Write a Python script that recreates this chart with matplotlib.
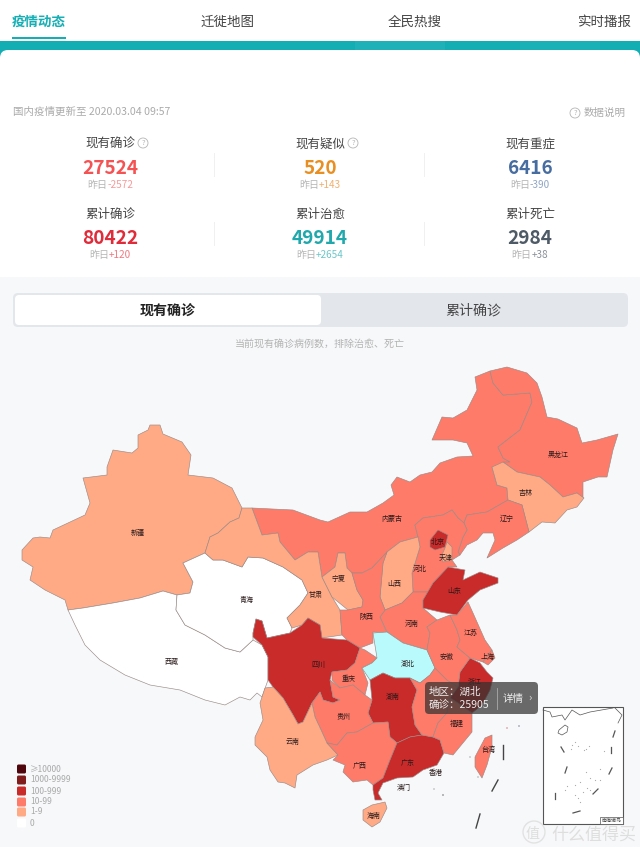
import matplotlib
matplotlib.use("Agg")
import matplotlib.pyplot as plt
from matplotlib.patches import Polygon, Rectangle, FancyBboxPatch, Circle

plt.rcParams['font.family'] = ['Noto Sans CJK SC', 'DejaVu Sans']

W, H = 640, 847

# top tabs
tabs = ['疫情动态', '迁徙地图', '全民热搜', '实时播报']
tab_x = [39, 227, 415, 604]

# summary cards
card_titles = ['现有确诊', '现有疑似', '现有重症', '累计确诊', '累计治愈', '累计死亡']
card_values = [27524, 520, 6416, 80422, 49914, 2984]
card_deltas = ['-2572', '+143', '-390', '+120', '+2654', '+38']
card_colors = ['#f55253', '#e98f21', '#476da0', '#e02c3a', '#20a8ac', '#4e5a65']
delta_colors = ['#f79a9a', '#f0b070', '#8fa5c4', '#ee7a82', '#6cc6c9', '#8a9199']
card_x = [110, 320, 530]
card_y = [144, 214]

# legend
legend_labels = ['≥10000', '1000-9999', '100-999', '10-99', '1-9', '0']
legend_colors = ['#4f070d', '#811c1c', '#c92a2a', '#ff7b69', '#ffaa85', '#ffffff']

# case bin of each province, index into legend_colors (-1 is the hovered one)
province_bins = {
    '内蒙古': 3, '新疆': 4, '西藏': 5, '青海': 5, '甘肃': 4, '黑龙江': 3, '吉林': 4,
    '辽宁': 3, '河北': 3, '北京': 2, '天津': 4, '山西': 4, '山东': 2, '宁夏': 4,
    '陕西': 3, '河南': 3, '江苏': 3, '安徽': 3, '上海': 3, '浙江': 2, '江西': 3,
    '福建': 3, '台湾': 3, '湖北': -1, '湖南': 2, '重庆': 3, '四川': 2, '贵州': 3,
    '云南': 4, '广西': 3, '广东': 2, '海南': 4,
}

# province outlines in pixels
outlines = {
    '内蒙古': [(252,508),(293,510),(320,520),(328,522),(350,512),(367,512),(383,503),(394,495),(391,485),(397,477),(410,482),(420,475),(432,472),(440,463),(457,457),(473,456),(467,443),(453,440),(432,440),(442,417),(453,418),(467,410),(477,390),(475,377),(490,371),(493,383),(503,395),(530,393),(532,402),(520,430),(498,447),(503,458),(510,462),(492,467),(497,485),(507,488),(508,500),(487,512),(467,515),(464,523),(458,518),(452,510),(443,515),(423,518),(415,525),(418,537),(400,542),(387,552),(372,568),(362,573),(352,573),(347,568),(345,553),(338,553),(335,567),(322,577),(318,552),(308,552),(295,560),(280,542),(278,533),(262,535)],
    '新疆': [(150,425),(160,425),(163,434),(182,442),(191,455),(188,475),(213,478),(232,488),(242,508),(239,518),(230,522),(218,533),(210,537),(205,553),(183,563),(193,582),(190,593),(177,595),(163,591),(140,598),(113,603),(83,608),(68,610),(65,600),(45,590),(30,580),(33,567),(22,560),(22,550),(33,538),(40,537),(50,538),(53,530),(85,515),(90,503),(83,478),(107,475),(107,467),(113,450),(132,453),(138,448),(138,435),(148,430)],
    '西藏': [(68,610),(83,608),(113,603),(140,598),(163,591),(177,595),(176,610),(185,625),(205,635),(225,648),(240,652),(253,640),(262,645),(268,657),(268,680),(262,697),(257,693),(250,700),(240,697),(225,705),(205,700),(180,690),(150,685),(125,675),(100,660),(85,645),(75,625)],
    '青海': [(205,553),(213,560),(223,560),(242,567),(248,557),(263,558),(283,567),(302,580),(308,593),(300,605),(287,618),(292,628),(290,633),(267,638),(262,621),(256,619),(253,633),(253,640),(240,652),(225,648),(205,635),(185,625),(176,610),(177,595),(190,593),(193,582),(183,563)],
    '甘肃': [(242,508),(252,508),(262,535),(278,533),(280,542),(295,560),(308,552),(318,552),(322,577),(327,587),(332,597),(340,610),(342,635),(322,638),(320,625),(308,618),(302,625),(292,628),(287,618),(300,605),(308,593),(302,580),(283,567),(263,558),(248,557),(242,567),(223,560),(213,560),(205,553),(210,537),(218,533),(230,522),(239,518)],
    '黑龙江': [(490,371),(507,367),(527,373),(537,383),(542,397),(547,417),(558,419),(577,428),(582,443),(597,440),(618,434),(613,450),(607,477),(598,477),(583,482),(583,498),(577,493),(563,497),(550,485),(540,477),(517,472),(503,462),(510,462),(503,458),(498,447),(520,430),(532,402),(530,393),(503,395),(493,383)],
    '吉林': [(492,467),(503,462),(517,472),(540,477),(550,485),(563,497),(577,493),(584,498),(577,507),(567,510),(555,523),(542,522),(529,532),(522,505),(508,500),(507,488),(497,485)],
    '辽宁': [(467,515),(487,512),(508,500),(522,505),(529,532),(517,540),(503,548),(487,558),(495,540),(493,533),(483,533),(477,540),(467,545),(460,555),(458,552),(463,537),(467,530),(464,523)],
    '河北': [(415,525),(423,518),(443,515),(452,510),(458,518),(464,523),(467,530),(463,537),(458,552),(460,555),(452,560),(457,567),(448,567),(433,583),(428,592),(413,592),(412,573),(420,547),(418,537)],
    '北京': [(438,530),(448,535),(445,547),(435,550),(430,547),(430,540)],
    '天津': [(447,542),(452,547),(452,560),(443,562),(441,557),(445,548)],
    '山西': [(387,552),(400,542),(418,537),(420,547),(412,573),(413,592),(402,603),(385,610),(380,597),(383,563)],
    '河南': [(385,610),(402,603),(413,592),(428,592),(423,600),(423,608),(437,620),(427,627),(430,633),(427,650),(403,643),(387,632),(380,617)],
    '山东': [(448,567),(465,570),(463,580),(480,572),(498,578),(498,583),(480,590),(468,600),(457,615),(440,612),(423,608),(423,600),(433,583)],
    '宁夏': [(322,577),(335,567),(338,553),(345,553),(347,568),(352,573),(357,590),(363,600),(362,607),(348,610),(332,597),(327,587)],
    '陕西': [(362,573),(372,568),(387,552),(383,563),(380,597),(385,610),(380,617),(387,633),(373,632),(373,643),(360,648),(347,640),(342,635),(340,610),(348,610),(362,607),(363,600),(357,590),(352,573)],
    '四川': [(253,633),(256,619),(262,621),(267,638),(290,633),(302,625),(308,618),(320,625),(322,638),(347,640),(360,648),(355,663),(347,670),(332,672),(330,680),(333,697),(340,700),(333,703),(323,700),(320,692),(312,703),(303,722),(298,724),(293,715),(283,698),(273,687),(268,680),(268,657),(262,645),(253,637)],
    '重庆': [(332,672),(347,670),(355,663),(360,648),(365,650),(377,658),(372,663),(362,668),(368,683),(365,695),(353,685),(340,688),(332,680)],
    '湖北': [(373,633),(387,632),(403,643),(427,650),(435,668),(430,675),(420,683),(410,678),(395,678),(383,673),(370,680),(362,668),(372,663),(377,658)],
    '湖南': [(370,680),(383,673),(395,678),(410,678),(417,690),(412,707),(415,725),(422,735),(410,737),(397,743),(390,737),(388,722),(373,723),(368,713),(372,700)],
    '贵州': [(312,703),(320,692),(323,700),(333,703),(340,700),(333,697),(330,680),(340,688),(353,685),(365,695),(372,700),(368,713),(373,723),(357,732),(347,733),(337,745),(327,743),(322,732),(315,717)],
    '云南': [(262,697),(265,688),(273,687),(283,698),(293,715),(298,724),(303,722),(312,703),(315,717),(322,732),(327,743),(338,755),(327,760),(313,765),(297,775),(295,788),(285,783),(278,782),(270,770),(267,757),(255,745),(255,737),(263,720),(260,703)],
    '广西': [(327,743),(337,745),(347,733),(357,732),(373,723),(388,722),(390,737),(397,743),(390,760),(383,778),(373,785),(367,780),(353,782),(343,772),(345,765),(333,760),(338,755)],
    '广东': [(397,743),(410,737),(422,735),(433,737),(440,740),(444,753),(437,765),(423,770),(413,777),(397,778),(383,783),(378,793),(382,800),(375,800),(373,790),(373,785),(383,778),(390,760)],
    '海南': [(363,810),(372,805),(385,802),(387,808),(380,822),(372,827),(363,820)],
    '江西': [(410,678),(420,683),(430,675),(435,668),(447,680),(458,687),(450,698),(447,713),(438,723),(433,737),(422,735),(415,725),(412,707),(417,690)],
    '福建': [(450,698),(458,703),(472,713),(472,732),(453,755),(444,753),(440,740),(433,737),(438,723),(447,713)],
    '浙江': [(470,658),(480,663),(487,672),(493,678),(490,690),(482,705),(472,713),(458,703),(450,698),(458,687),(460,672)],
    '安徽': [(427,627),(437,620),(450,615),(457,630),(460,640),(457,647),(470,658),(460,672),(458,687),(447,680),(435,668),(427,650),(430,633)],
    '江苏': [(450,615),(457,615),(468,602),(473,613),(485,640),(492,650),(483,662),(470,658),(457,647),(460,640),(457,630)],
    '上海': [(483,662),(492,650),(495,658),(488,665)],
    '台湾': [(485,738),(492,735),(492,747),(487,765),(482,778),(475,767),(475,757)],
}

# map labels
map_labels = {
    '新疆': (138,533), '西藏': (172,662), '青海': (247,600), '甘肃': (316,595),
    '内蒙古': (392,519), '黑龙江': (558,455), '吉林': (526,493), '辽宁': (507,519),
    '北京': (438,542), '天津': (446,558), '河北': (420,569), '山西': (394,584),
    '宁夏': (339,579), '山东': (454,591), '陕西': (366,617), '河南': (412,624),
    '江苏': (471,633), '安徽': (447,657), '上海': (488,657), '浙江': (475,682),
    '湖北': (408,664), '四川': (318,665), '重庆': (349,679), '湖南': (393,697),
    '贵州': (344,717), '云南': (293,742), '广西': (360,766), '广东': (408,763),
    '福建': (457,724), '台湾': (488,750), '香港': (436,773), '澳门': (404,788),
    '海南': (374,816),
}

# nine dash line and the south china sea inset
dashes = [((503,745),(503,759)), ((498,780),(492,791)), ((480,814),(476,828))]
inset_dashes = [((615,731),(613,737)), ((561,747),(564,752)), ((611,747),(611,753)),
                ((567,767),(565,773)), ((612,768),(609,774)), ((555,793),(555,799)),
                ((598,789),(593,794)), ((580,811),(573,813))]
inset_coast = [(543,710),(550,712),(552,717),(562,715),(565,720),(572,710),(580,715),(590,712),(613,708)]
inset_coast2 = [(615,708),(622,715),(618,723)]
inset_hainan = [(559,730),(565,725),(568,727),(567,732),(562,735),(558,733)]
inset_dots = [(572,745),(575,742),(578,746),(571,749),(586,749),(589,746),(584,750),(604,751),
              (586,772),(600,769),(590,778),(595,780),(580,782),(575,785),(565,790),(567,786),
              (587,788),(600,780),(590,790),(583,792),(575,795),(580,802),(578,798)]

fig = plt.figure(figsize=(W / 100, H / 100), dpi=100)
ax = fig.add_axes([0, 0, 1, 1])
ax.set_xlim(0, W)
ax.set_ylim(H, 0)
ax.axis('off')


def px(size):
    # font size in screen pixels
    return size * 0.72


def box(x0, y0, x1, y1, color, r=0, z=1, **kw):
    if r:
        p = FancyBboxPatch((x0 + r, y0 + r), x1 - x0 - 2 * r, y1 - y0 - 2 * r,
                           boxstyle='round,pad=%g,rounding_size=%g' % (r, r),
                           fc=color, ec='none', zorder=z, **kw)
    else:
        p = Rectangle((x0, y0), x1 - x0, y1 - y0, fc=color, ec='none', zorder=z, **kw)
    ax.add_patch(p)


def label(x, y, s, size, color='#333333', ha='center', weight='normal', z=5, **kw):
    return ax.text(x, y, s, fontsize=px(size), color=color, ha=ha, va='center',
                   fontweight=weight, zorder=z, **kw)


def qmark(x, y, size=10, color='#b5b5b5'):
    ax.add_patch(Circle((x, y), size / 2, fc='none', ec=color, lw=0.6, zorder=5))
    label(x, y, '?', size * 0.75, color=color)


def two_tone(cx, y, left, right, size, c_left, c_right):
    # one centred line in two colours, so measure both parts
    t1 = label(cx, y, left, size, color=c_left, ha='left')
    t2 = label(cx, y, right, size, color=c_right, ha='left')
    r = fig.canvas.get_renderer()
    w1 = t1.get_window_extent(r).width
    w2 = t2.get_window_extent(r).width
    t1.set_x(cx - (w1 + w2) / 2)
    t2.set_x(cx - (w1 + w2) / 2 + w1)


# page background
box(0, 0, W, H, '#ffffff', z=0)
box(0, 277, W, H, '#f7f8fa', z=0.5)

# tabs
for i, t in enumerate(tabs):
    if i == 0:
        label(tab_x[i], 22, t, 13.5, color='#14aeb4', weight='bold')
    else:
        label(tab_x[i], 22, t, 13.5, color='#444444')
box(12, 37, 66, 39, '#14aeb4')
box(0, 41, W, 60, '#13aeb4', z=1)
box(355, 41, 445, 50, '#4cc0c5', z=1.1, alpha=0.2)
box(520, 41, 600, 50, '#4cc0c5', z=1.1, alpha=0.12)
box(0, 50, W, 277, '#ffffff', r=8, z=2)
box(0, 60, W, 277, '#ffffff', z=2)

# update line
label(13, 112, '国内疫情更新至 2020.03.04 09:57', 10.5, color='#aaaaaa', ha='left')
qmark(575, 113, 10)
label(584, 113, '数据说明', 10.5, color='#aaaaaa', ha='left')

# summary cards
for i in range(6):
    cx = card_x[i % 3]
    y = card_y[i // 3]
    label(cx, y + 0.5, card_titles[i], 12.5, color='#444444')
    label(cx, y + 24.5, str(card_values[i]), 19, color=card_colors[i], weight='bold')
    two_tone(cx, y + 41, '昨日', card_deltas[i], 10, '#b5b5b5', delta_colors[i])
qmark(143, 143, 10)
qmark(353, 143, 10)
for x in [214, 424]:
    for y0, y1 in [(153, 176), (222, 245)]:
        ax.plot([x, x], [y0, y1], color='#f0f0f0', lw=0.7, zorder=3)

# switch
box(13, 293, 628, 327, '#e3e6eb', r=5, z=3)
box(15, 295, 321, 325, '#ffffff', r=4, z=4)
label(168, 311, '现有确诊', 14, color='#222222', weight='bold')
label(473, 311, '累计确诊', 14, color='#444444')
label(320, 344, '当前现有确诊病例数，排除治愈、死亡', 10, color='#b3b3b3')

# map
for name, pts in outlines.items():
    b = province_bins[name]
    color = '#b9fbfd' if b < 0 else legend_colors[b]
    ax.add_patch(Polygon(pts, closed=True, fc=color, ec='#9a8a86', lw=0.45, joinstyle='round', zorder=6))

for name, (x, y) in map_labels.items():
    label(x, y, name, 7, color='#2a1a1a', z=7)

for a, b in dashes:
    ax.plot([a[0], b[0]], [a[1], b[1]], color='#444444', lw=1.0, zorder=6)
ax.scatter([507, 519, 470, 478, 434, 443], [728, 726, 757, 777, 789, 795], s=1.5,
           c=['#d99', '#99a', '#bbb', '#bbb', '#bbb', '#888'], linewidths=0, zorder=6)

# inset
box(543, 707, 623, 824, '#ffffff', z=6)
ax.add_patch(Rectangle((543, 707), 80, 117, fc='none', ec='#555555', lw=0.8, zorder=7))
for line in [inset_coast, inset_coast2]:
    ax.plot(*zip(*line), color='#555555', lw=0.5, zorder=7)
ax.add_patch(Polygon(inset_hainan, closed=True, fc='none', ec='#555555', lw=0.5, zorder=7))
for a, b in inset_dashes:
    ax.plot([a[0], b[0]], [a[1], b[1]], color='#555555', lw=0.9, zorder=7)
ax.scatter(*zip(*inset_dots), s=0.8, c='#aaaaaa', linewidths=0, zorder=7)
ax.add_patch(Rectangle((600, 817), 23, 7, fc='#ffffff', ec='#555555', lw=0.5, zorder=7))
label(611.5, 820.5, '南海诸岛', 5, color='#444444', z=8)

# legend
legend_y = [769, 780, 791, 802, 812, 823]
for lab, col, y in zip(legend_labels, legend_colors, legend_y):
    box(17, y - 4.5, 26, y + 4.5, col, r=1.5, z=6)
    label(30, y, lab, 8.5, color='#aaaaaa', ha='left')

# tooltip for hubei
box(425, 682, 538, 714, '#323232', r=4, z=9, alpha=0.72)
label(429, 692, '地区：湖北', 10.5, color='#eeeeee', ha='left', z=10)
label(429, 705, '确诊：25905', 10.5, color='#eeeeee', ha='left', z=10)
ax.plot([497, 497], [688, 709], color='#aaaaaa', lw=0.6, zorder=10)
label(513, 699, '详情', 10.5, color='#eeeeee', z=10)
label(530, 698, '›', 11, color='#dddddd', z=10)

# watermark
ax.add_patch(Circle((534, 832), 11, fc='none', ec='#e2e2e2', lw=1, zorder=11))
label(533, 834, '值', 14, color='#dedede', z=11)
label(594, 835, '什么值得买', 17, color='#dedede', z=11)

fig.savefig('out.png', dpi=100)
